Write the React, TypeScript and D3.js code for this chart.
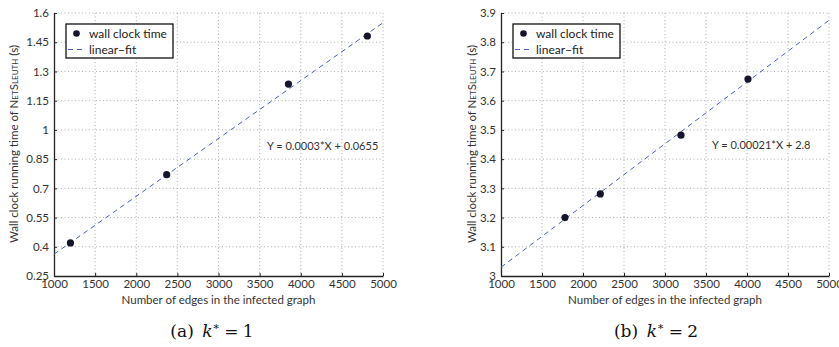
import React, { useEffect, useRef } from 'react';
import * as d3 from 'd3';

// edges in the infected graph vs wall clock time, k* = 1
const edgesA = [1200, 2370, 3850, 4810];
const timeA = [0.42, 0.77, 1.235, 1.482];
const fitXA = [1000, 5000];
const fitYA = [0.362, 1.55];
const yTicksA = [0.25, 0.4, 0.55, 0.7, 0.85, 1, 1.15, 1.3, 1.45, 1.6];

// k* = 2
const edgesB = [1780, 2211, 3195, 4012];
const timeB = [3.2, 3.281, 3.482, 3.674];
const fitXB = [1000, 5000];
const fitYB = [3.03, 3.875];
const yTicksB = [3, 3.1, 3.2, 3.3, 3.4, 3.5, 3.6, 3.7, 3.8, 3.9];

const xTicks = [1000, 1500, 2000, 2500, 3000, 3500, 4000, 4500, 5000];
const legendLabels = ['wall clock time', 'linear\u2212fit'];
const equations = ['Y = 0.0003*X + 0.0655', 'Y = 0.00021*X + 2.8'];
const captionTags = ['(a)', '(b)'];
const captionK = ['1', '2'];

const W = 839;
const H = 347;
const FONT = "Lato, 'Open Sans', 'Liberation Sans', sans-serif";

function drawPanel(root, opts) {
  const { left, right, edges, time, fitX, fitY, yTicks, eq, eqPos, tag, k, capX, labelX } = opts;
  const top = 13, bottom = 276;

  const x = d3.scaleLinear().domain([1000, 5000]).range([left, right]);
  const y = d3.scaleLinear().domain([yTicks[0], yTicks[yTicks.length - 1]]).range([bottom, top]);

  const g = root.append('g');

  // dotted grid
  g.selectAll('line.gx').data(xTicks.slice(1)).enter().append('line')
    .attr('x1', d => x(d)).attr('x2', d => x(d))
    .attr('y1', top).attr('y2', bottom)
    .style('stroke', '#999').style('stroke-width', 0.8)
    .style('stroke-dasharray', '1,2.5');
  g.selectAll('line.gy').data(yTicks.slice(1)).enter().append('line')
    .attr('x1', left).attr('x2', right)
    .attr('y1', d => y(d)).attr('y2', d => y(d))
    .style('stroke', '#999').style('stroke-width', 0.8)
    .style('stroke-dasharray', '1,2.5');

  // axes (left + bottom solid)
  const yAxis = d3.axisLeft(y).tickValues(yTicks).tickSizeInner(-3).tickSizeOuter(0)
    .tickPadding(5).tickFormat(d3.format('~g'));
  const xAxis = d3.axisBottom(x).tickValues(xTicks).tickSizeInner(-3).tickSizeOuter(0)
    .tickPadding(6).tickFormat(d3.format('d'));

  const ya = g.append('g').attr('transform', `translate(${left},0)`).call(yAxis);
  const xa = g.append('g').attr('transform', `translate(0,${bottom})`).call(xAxis);
  [ya, xa].forEach(a => {
    a.select('.domain').style('stroke', '#222').style('stroke-width', 1.3);
    a.selectAll('.tick line').style('stroke', '#222');
    a.selectAll('.tick text').style('font-family', FONT).style('font-size', '11.5px').style('fill', '#333');
  });
  xa.selectAll('.tick text').attr('dy', '0.55em');

  // fit line
  g.append('path')
    .datum(fitX.map((v, i) => [v, fitY[i]]))
    .attr('d', d3.line().x(d => x(d[0])).y(d => y(d[1])))
    .style('fill', 'none').style('stroke', '#4a5fb8').style('stroke-width', 1)
    .style('stroke-dasharray', '5,4');

  // points
  g.selectAll('circle.pt').data(edges).enter().append('circle')
    .attr('cx', d => x(d)).attr('cy', (d, i) => y(time[i]))
    .attr('r', 3.6).style('fill', '#14142a');

  // equation
  g.append('text').attr('x', eqPos[0]).attr('y', eqPos[1])
    .style('font-family', FONT).style('font-size', '11px').style('fill', '#333')
    .text(eq);

  // legend
  const lx = left + 12, ly = 24;
  const lg = g.append('g');
  lg.append('rect').attr('x', lx).attr('y', ly).attr('width', 107).attr('height', 34)
    .style('fill', 'white').style('stroke', '#111').style('stroke-width', 1.3);
  lg.append('circle').attr('cx', lx + 10.5).attr('cy', ly + 9.5).attr('r', 3.3).style('fill', '#14142a');
  lg.append('line').attr('x1', lx + 2).attr('x2', lx + 19).attr('y1', ly + 25.5).attr('y2', ly + 25.5)
    .style('stroke', '#4a5fb8').style('stroke-dasharray', '5,4');
  legendLabels.forEach((t, i) => {
    lg.append('text').attr('x', lx + 23).attr('y', ly + 9.5 + i * 16).attr('dy', '0.35em')
      .style('font-family', FONT).style('font-size', '12px').style('fill', '#222').text(t);
  });

  // x label
  g.append('text').attr('x', (left + right) / 2).attr('y', 304)
    .attr('text-anchor', 'middle')
    .style('font-family', FONT).style('font-size', '11.5px').style('fill', '#333')
    .text('Number of edges in the infected graph');

  // y label with small caps
  const yl = g.append('text')
    .attr('transform', `translate(${labelX},144) rotate(-90)`)
    .attr('text-anchor', 'middle').attr('dy', '0.35em')
    .style('font-family', FONT).style('font-size', '11.5px').style('fill', '#333');
  const parts = [['Wall clock running time of N', 11.5], ['ET', 8], ['S', 11.5], ['LEUTH', 8], [' (s)', 11.5]];
  parts.forEach(([t, s]) => yl.append('tspan').style('font-size', `${s}px`).text(t));

  // caption
  const cap = g.append('text').attr('x', capX).attr('y', 337)
    .attr('text-anchor', 'middle')
    .style('font-family', "'DejaVu Serif', 'Liberation Serif', serif").style('font-size', '17px').style('fill', '#111');
  cap.append('tspan').text(tag + '\u2002');
  cap.append('tspan').style('font-style', 'italic').text('k');
  cap.append('tspan').attr('dy', -7).style('font-size', '11px').text('\u2217');
  cap.append('tspan').attr('dy', 7).text('\u2005=\u2005' + k);
}

export default function App() {
  const ref = useRef(null);

  useEffect(() => {
    const svg = d3.select(ref.current);
    svg.selectAll('*').remove();
    svg.append('rect').attr('width', W).attr('height', H).style('fill', 'white');
    drawPanel(svg, {
      left: 54, right: 383, edges: edgesA, time: timeA, fitX: fitXA, fitY: fitYA,
      yTicks: yTicksA, eq: equations[0], eqPos: [267, 150], tag: captionTags[0], k: captionK[0], capX: 212,
      labelX: 14,
    });
    drawPanel(svg, {
      left: 501, right: 829, edges: edgesB, time: timeB, fitX: fitXB, fitY: fitYB,
      yTicks: yTicksB, eq: equations[1], eqPos: [712, 149], tag: captionTags[1], k: captionK[1], capX: 656,
      labelX: 472,
    });
  }, []);

  return (
    <svg ref={ref} width={W} height={H}
      style={{ position: 'absolute', left: 0, top: 0, background: 'white' }} />
  );
}
